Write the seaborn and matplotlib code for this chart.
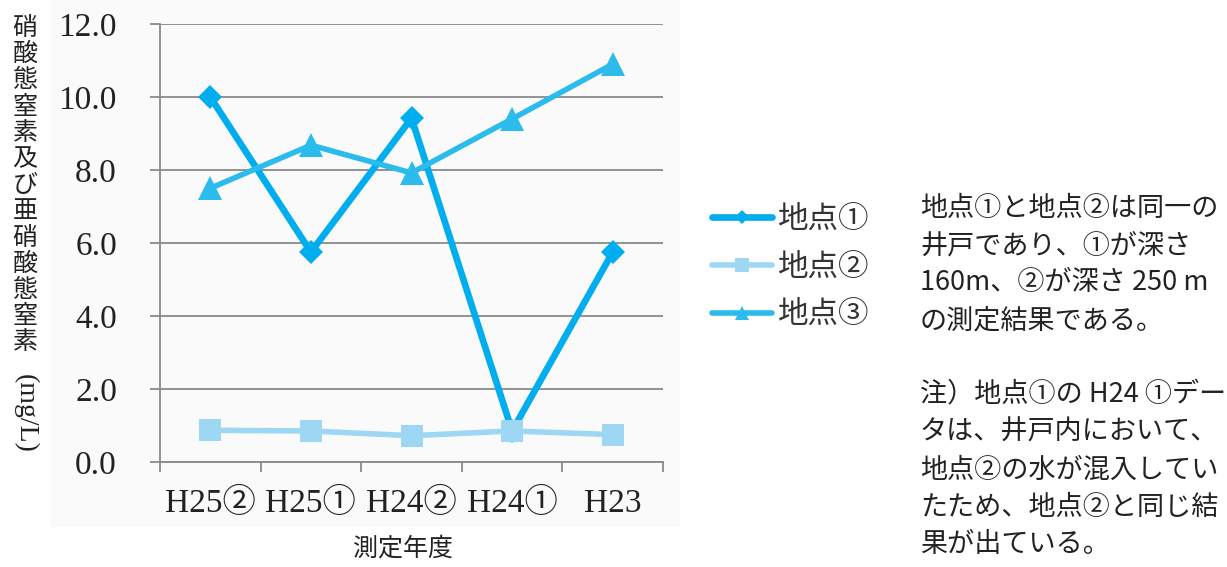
import matplotlib
matplotlib.use("Agg")
import matplotlib.pyplot as plt
import seaborn as sns
import numpy as np
import pandas as pd
from matplotlib.patches import Rectangle

sns.set_theme(style="white")
plt.rcParams['font.family'] = ['Liberation Serif', 'Noto Sans CJK JP', 'DejaVu Sans']

# ---- data ----
categories = ["H25②", "H25①", "H24②", "H24①", "H23"]
series_names = ["地点①", "地点②", "地点③"]
site1 = [10.0, 5.75, 9.42, 0.85, 5.75]
site2 = [0.87, 0.85, 0.72, 0.85, 0.75]
site3 = [7.5, 8.68, 7.92, 9.4, 10.9]
yticks = [0.0, 2.0, 4.0, 6.0, 8.0, 10.0, 12.0]
ytick_labels = ["0.0", "2.0", "4.0", "6.0", "8.0", "10.0", "12.0"]
ylabel_jp = "硝酸態窒素及び亜硝酸態窒素"
ylabel_unit = "(mg/L)"
xlabel = "測定年度"
note_lines = ["地点①と地点②は同一の",
              "井戸であり、①が深さ",
              "160m、②が深さ 250 m",
              "の測定結果である。"]
note2_lines = ["注）地点①の H24 ①デー",
               "タは、井戸内において、",
               "地点②の水が混入してい",
               "たため、地点②と同じ結",
               "果が出ている。"]

colors = ["#00AEEF", "#9DD7F4", "#2BBBEC"]
markers = ["D", "s", "^"]
msizes = [12, 16, 17]
lwidths = [4.8, 4.0, 4.0]

df = pd.DataFrame({
    "年度": categories * 3,
    "値": site1 + site2 + site3,
    "地点": sum([[n] * len(categories) for n in series_names], []),
})

W, H = 1227, 567
fig = plt.figure(figsize=(W / 100, H / 100), dpi=100)
fig.patch.set_facecolor("white")
fig.patches.append(Rectangle((50 / W, 1 - 527 / H), 630 / W, 527 / H,
                             transform=fig.transFigure, facecolor="#fafafa",
                             edgecolor="none", zorder=-10))

ax = fig.add_axes([160 / W, 1 - 462 / H, (663 - 160) / W, (462 - 24) / H])
ax.set_facecolor("none")
ax.set_zorder(1)

for i, name in enumerate(series_names):
    sub = df[df["地点"] == name]
    sns.lineplot(data=sub, x="年度", y="値", ax=ax, color=colors[i],
                 marker=markers[i], markersize=msizes[i], linewidth=lwidths[i],
                 markeredgewidth=0, label=name, sort=False, zorder=3 + i,
                 legend=False)

ax.set_xlim(-0.5, len(categories) - 0.5)
ax.set_ylim(0, 12)
ax.set_yticks(yticks)
ax.set_yticklabels(ytick_labels)
ax.set_xticks(range(len(categories)))
ax.set_xticklabels(categories)
ax.set_xticks(np.arange(-0.5, len(categories), 1.0), minor=True)
ax.tick_params(axis="x", which="major", length=0, pad=19, labelsize=24,
               labelcolor="#222222")
ax.tick_params(axis="x", which="minor", length=7, width=1.3, color="#8a8a8a",
               direction="out", bottom=True)
ax.tick_params(axis="y", which="major", length=7, width=1.3, color="#8a8a8a",
               pad=24, labelsize=24, labelcolor="#222222", left=True)
ax.grid(axis="y", color="#8a8a8a", linewidth=1.3, zorder=1)
ax.grid(axis="x", visible=False)
for s in ["top", "right"]:
    ax.spines[s].set_visible(False)
for s in ["left", "bottom"]:
    ax.spines[s].set_color("#8a8a8a")
    ax.spines[s].set_linewidth(1.3)
ax.set_xlabel("")
ax.set_ylabel("")

# y-axis label stacked vertically
y0 = 28
step = 26.2
for k, ch in enumerate(ylabel_jp):
    fig.text(25 / W, 1 - (y0 + k * step) / H, ch, ha="center", va="center",
             fontsize=18, family=['Noto Sans CJK JP'], color="#222222")
fig.text(25 / W, 1 - 413 / H, ylabel_unit, ha="center", va="center",
         rotation=-90, fontsize=20, color="#222222")

fig.text(403 / W, 1 - 549 / H, xlabel, ha="center", va="center", fontsize=18,
         family=['Noto Sans CJK JP'], color="#222222")

# legend
handles = ax.get_lines()[:3]
leg = fig.legend(handles, series_names, loc="center left",
                 bbox_to_anchor=(712 / W, 1 - 267 / H), frameon=False,
                 handlelength=1.95, handletextpad=0.2,
                 labelspacing=0.55, borderpad=0, borderaxespad=0,
                 markerscale=0.6, prop={'family': ['Noto Sans CJK JP'], 'size': 22})
for t in leg.get_texts():
    t.set_color("#333333")
for lh in leg.legend_handles:
    lh.set_solid_capstyle("round")

for k, line in enumerate(note_lines):
    fig.text(920 / W, 1 - (208 + k * 37.5) / H, line, ha="left", va="center",
             fontsize=19.5, family=['Noto Sans CJK JP'], color="#222222")
for k, line in enumerate(note2_lines):
    fig.text(920 / W, 1 - (395 + k * 37.5) / H, line, ha="left", va="center",
             fontsize=19.5, family=['Noto Sans CJK JP'], color="#222222")

fig.savefig("out.png", dpi=100)
